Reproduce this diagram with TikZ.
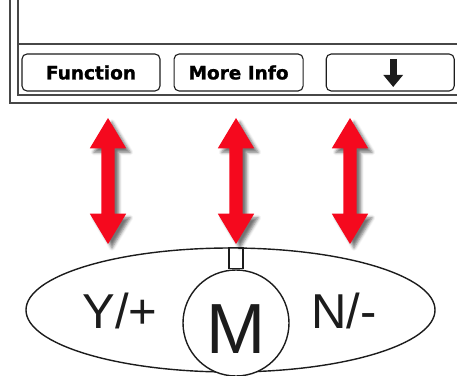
\documentclass[tikz,border=0pt]{standalone}
\usepackage{fontspec}
\setmainfont{Liberation Sans}
\newfontfamily\btnfont{DejaVu Sans}[BoldFeatures={FakeBold=1.2}]
\usetikzlibrary{arrows.meta,positioning,shapes.arrows,shapes.geometric,shadows.blur}
\definecolor{pnlink}{HTML}{1C1C1C}
\definecolor{pnlgray}{HTML}{474747}
\definecolor{pnlred}{HTML}{F5091E}
\tikzset{
  frm/.style={draw=pnlgray, line width=1.4pt},
  btn/.style={draw=pnlink, line width=1.1pt, rounded corners=5pt, minimum height=37pt, inner sep=0pt, font=\btnfont\bfseries\fontsize{18.5}{20}\selectfont},
  dbl/.style={double arrow, shape border rotate=90, fill=pnlred, inner sep=6.5pt, minimum width=36pt, minimum height=126pt,
    double arrow head extend=11.5pt, double arrow tip angle=62,
    blur shadow={shadow xshift=4pt, shadow yshift=-4pt, shadow blur radius=3pt, shadow opacity=55}},
  mot/.style={draw=pnlink, line width=1.4pt, inner sep=0pt},
  big/.style={anchor=base, inner sep=0pt, text=pnlink},
}
\begin{document}
\begin{tikzpicture}[x=1pt,y=1pt]
  \useasboundingbox (0,0) rectangle (457,375);
  % control panel: double frame, button row
  \draw[frm] (10,375) |- (457,272);
  \draw[frm] (18,375) |- (457,280);
  \draw[frm] (18,331) -- (457,331);
  \node[btn, minimum width=138pt] (fnbtn) at (91,302.5) {Function};
  \node[btn, minimum width=129pt, right=13pt of fnbtn] (infobtn) {More Info};
  \node[btn, minimum width=128pt, right=22pt of infobtn] (downbtn) {};
  \coordinate (dntop) at ([xshift=3pt,yshift=13.5pt]downbtn.center);
  \coordinate (dntip) at ([xshift=3pt,yshift=-14.5pt]downbtn.center);
  \draw[pnlink, line width=7pt, -{Triangle[width=19pt,length=12pt]}] (dntop) -- (dntip);
  % red double arrows
  \node[dbl] (fnarr) at (108,194) {};
  \node[dbl] (infoarr) at (236,194) {};
  \node[dbl] (downarr) at (350,194) {};
  % selector with motor
  \node[ellipse, mot, minimum width=409pt, minimum height=124pt] (selector) at (230.5,65) {};
  \node[circle, mot, minimum size=106pt, fill=white] (motor) at (236,52) {};
  \node[mot, minimum width=14pt, minimum height=21pt, anchor=south] (shaft) at (motor.north) {};
  \node[big, font=\fontsize{49}{50}\selectfont] (yes) at (120,47) {Y/+};
  \node[big, font=\fontsize{49}{50}\selectfont] (no) at (344,47) {N/-};
  \node[big, font=\fontsize{71}{72}\selectfont] (mlbl) at (236,22) {M};
\end{tikzpicture}
\end{document}
